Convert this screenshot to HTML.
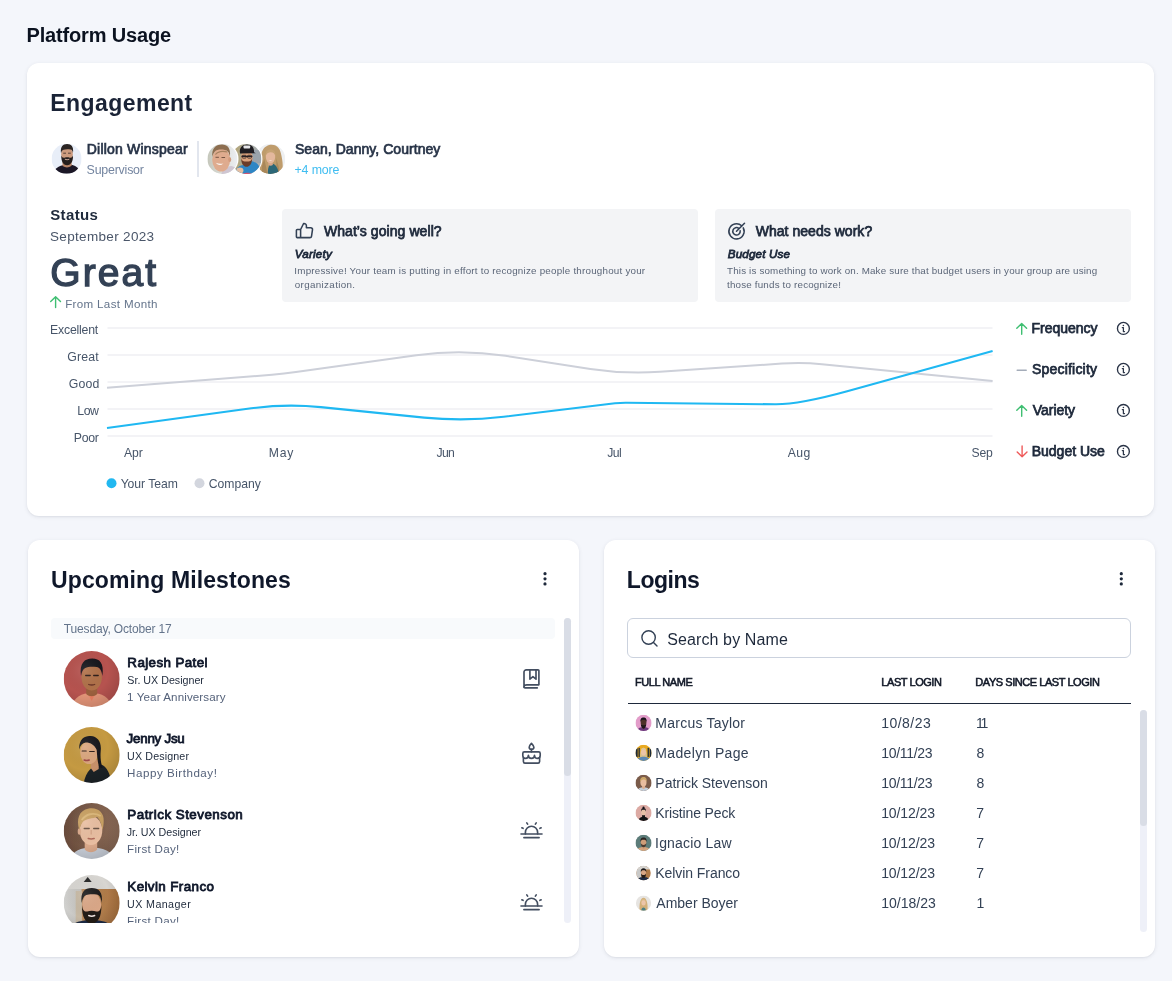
<!DOCTYPE html>
<html lang="en">
<head>
<meta charset="utf-8">
<title>Platform Usage</title>
<style>
*{box-sizing:border-box;margin:0;padding:0}
html,body{width:1172px;height:981px;overflow:hidden}
body{background:#f4f6fb;font-family:"Liberation Sans",sans-serif;color:#1e293b;position:relative}
.abs{position:absolute;white-space:nowrap;line-height:1}
.card{position:absolute;background:#fff;border-radius:12px;box-shadow:0 1px 4px rgba(30,40,70,.09),0 1px 2px rgba(30,40,70,.05)}
.t{position:absolute;white-space:nowrap;line-height:1;transform-origin:0 0}
svg{position:absolute;overflow:visible}
.yl{font-size:12.500px;color:#475569}
.xl{font-size:12.500px;color:#475569}
.mt{font-size:14px;font-weight:400;color:#1e293b;-webkit-text-stroke:.75px}
.th{font-size:11px;font-weight:400;color:#111827;-webkit-text-stroke:.55px}
.mn{font-size:14px;font-weight:400;color:#0f172a;-webkit-text-stroke:.8px}
.mr{font-size:11.500px;color:#1e293b}
.mo{font-size:12.500px;color:#55627a}
.ln{font-size:14px;color:#334155}
.mi{stroke:#434e60 !important;stroke-width:1.650px !important}
.ic{fill:none;stroke:#334155;stroke-width:1.4;stroke-linecap:round;stroke-linejoin:round}
</style>
</head>
<body>
<div id="root" style="position:absolute;left:0;top:0;width:1172px;height:981px;will-change:transform">

<!-- PAGE TITLE -->
<div class="t" id="ptitle" style="left:26.45px;top:24.90px;font-size:20px;letter-spacing:-0.150px;font-weight:700;color:#0b1220">Platform Usage</div>

<!-- ENGAGEMENT CARD -->
<div class="card" id="card1" style="left:27px;top:63px;width:1127.2px;height:453px"></div>
<div class="t" id="eng" style="left:50.35px;top:91.60px;font-size:23px;letter-spacing:0.433px;font-weight:700;color:#1a2336">Engagement</div>

<!-- supervisor -->
<svg id="av0" style="left:51px;top:143px" width="30" height="30" viewBox="-0.600 -0.800 30 30">
  <defs><clipPath id="c30"><circle cx="15" cy="15" r="15"/></clipPath>
  <linearGradient id="gA1" x1="0" x2="1"><stop offset="0" stop-color="#c4c6ba"/><stop offset=".45" stop-color="#d9dbd6"/><stop offset="1" stop-color="#eceef2"/></linearGradient>
  <linearGradient id="gA2" x1="0" x2="1"><stop offset="0" stop-color="#b9a46c"/><stop offset=".5" stop-color="#a8a99a"/><stop offset="1" stop-color="#a7afb6"/></linearGradient>
  </defs>
  <g clip-path="url(#c30)">
    <rect width="30" height="30" fill="#e8eef8"/>
    <path d="M1 30C2 25.500 6 23 11 21.500L20 21C24 22 28 24 29 30Z" fill="#1b1726"/>
    <path d="M10.800 18.500L11 22.300Q15.500 25 20 22L20 18.500Z" fill="#b78467"/>
    <ellipse cx="15.400" cy="10.500" rx="5.800" ry="7.200" fill="#cc9b7e"/>
    <path d="M9.400 9.500C8.700 3 11 .2 15.500.2C20 .2 22.200 3 21.400 9.500C21 6.800 20.200 6 19 5.700C16.500 5.200 13.500 5.300 12 5.900C10.600 6.400 9.800 7.200 9.400 9.500Z" fill="#2b2523"/>
    <path d="M9.700 11.500C9.500 17.500 11.500 21.400 15.500 21.400C19.500 21.400 21.700 17.500 21.400 11.500C20.900 13.600 19.600 14.300 18.100 13.900C16.600 13.400 14.500 13.400 13 13.900C11.500 14.300 10.200 13.600 9.700 11.500Z" fill="#241e1d"/>
    <path d="M13.600 15.600q1.900.9 3.800 0" stroke="#d8b4a4" stroke-width=".9" fill="none" stroke-linecap="round"/>
    <path d="M12 9.400h2M16.800 9.400h2" stroke="#3a2a24" stroke-width=".8" stroke-linecap="round"/>
  </g>
</svg>
<div class="t" id="sup1" style="left:86.75px;top:141.80px;font-size:14px;letter-spacing:0.204px;font-weight:400;-webkit-text-stroke:.7px;color:#283448">Dillon Winspear</div>
<div class="t" id="sup2" style="left:86.60px;top:164.00px;font-size:12.4px;letter-spacing:-0.211px;color:#7485a0">Supervisor</div>
<div class="abs" style="left:197.300px;top:141px;width:1.500px;height:36px;background:#e2e6ee"></div>

<!-- group avatars -->
<svg id="av3" style="left:254px;top:143px" width="32" height="32" viewBox="-1.300 -1.000 32 32">
  <circle cx="15" cy="15" r="16" fill="#fff"/>
  <g clip-path="url(#c30)">
    <rect width="30" height="30" fill="#eef0f2"/>
    <path d="M5.500 30C3.500 22 5 12 7 7C9 2.500 13 .8 16.500.8C21 .8 24.500 4 25.500 9C27 15 28.500 22 26.500 30Z" fill="#bf9c6c"/>
    <path d="M7 30C5.500 24 7.500 19 9 15L11 24L12 30Z" fill="#a98759"/>
    <path d="M21 14C22 19 24.500 23 24 30L21 30Z" fill="#ab8a5c"/>
    <path d="M12.500 30C12.500 24 13.500 20.500 16 19.500C19 19.500 22.500 22 23.500 30Z" fill="#2c6777"/>
    <path d="M13 17h4.500v4q-2.200 1.500-4.500 0z" fill="#d7a68a"/>
    <ellipse cx="15.200" cy="13" rx="4.700" ry="6.200" fill="#e4b89d"/>
    <path d="M10.300 12.500C10 7 12.500 5.500 15.500 5.500C18.500 5.500 20.500 7.500 20.200 12.500C19.500 9.500 18 8.300 15.500 8.300C13 8.300 11 9.500 10.300 12.500Z" fill="#c6a374"/>
    <path d="M13.200 15.900q2 1.500 4 0q-2 .7-4 0Z" fill="#fff"/>
  </g>
</svg>
<svg id="av2" style="left:230px;top:143px" width="32" height="32" viewBox="-1.350 -1.000 32 32">
  <circle cx="15" cy="15" r="16.100" fill="#fff"/>
  <g clip-path="url(#c30)">
    <rect width="30" height="30" fill="url(#gA2)"/>
    <rect x="17" y="6" width="13" height="13" fill="#9aa3ab"/>
    <path d="M3 30C4 24 8 21.500 12 21L20 17C24 18 29 20 30 30Z" fill="#2e86c5"/>
    <ellipse cx="15.500" cy="13" rx="5.900" ry="6.800" fill="#dba27c"/>
    <path d="M9.800 14C9.800 20 12.500 22.800 15.200 22.800C18 22.800 20.800 20 20.800 14C20 17.200 18.500 17.600 15.300 17.600C12.200 17.600 10.600 17.200 9.800 14Z" fill="#6a3c29"/>
    <path d="M8.600 9C7.800 3.500 11 .5 15.800.5C20.500.5 23 3.500 22.700 8.200L24.500 9.300L8.600 9.600Z" fill="#1f1d22"/>
    <rect x="12.200" y="1.400" width="6.600" height="3.200" rx=".8" fill="#e7e7ea"/>
    <path d="M10.200 12.400h10.800" stroke="#2a2224" stroke-width="1.300"/>
    <rect x="10.800" y="11.300" width="4" height="2.800" rx=".8" fill="none" stroke="#2a2224" stroke-width=".8"/>
    <rect x="16.200" y="11.300" width="4" height="2.800" rx=".8" fill="none" stroke="#2a2224" stroke-width=".8"/>
    <ellipse cx="8.500" cy="26.500" rx="3.600" ry="3" fill="#e6bfa2"/>
    <path d="M10 30q6-2.500 13 0z" fill="#e0506a"/>
  </g>
</svg>
<svg id="av1" style="left:206px;top:143px" width="32" height="32" viewBox="-1.400 -1.000 32 32">
  <circle cx="15" cy="15" r="16.100" fill="#fff"/>
  <g clip-path="url(#c30)">
    <rect width="30" height="30" fill="url(#gA1)"/>
    <path d="M14 30C15 25 19 22.500 24 22L30 24V30Z" fill="#cfc6d2"/>
    <ellipse cx="13.800" cy="15.800" rx="9" ry="11.800" fill="#dfab8e"/>
    <ellipse cx="22.300" cy="15.500" rx="1.500" ry="2.600" fill="#d39a7c"/>
    <path d="M5 13C4 5 8 .6 14.500.6C20 .6 23.500 4 22.600 12.500C21.500 8 20 6.500 17.500 6C13.500 5 9.500 5.500 7.500 7.500C6 9 5.500 10.500 5 13Z" fill="#8d6e50"/>
    <path d="M8 10.500C10 7.500 15 6.500 20 8" stroke="#a78361" stroke-width="1.200" fill="none"/>
    <path d="M8.300 18.800Q12 23 16 19.500Q12 20.300 8.300 18.800Z" fill="#fbf7f4"/>
    <path d="M8.500 13.300h2.600M14.500 13.500h2.800" stroke="#6a4a3a" stroke-width=".9" stroke-linecap="round"/>
  </g>
</svg>
<div class="t" id="grp1" style="left:294.95px;top:141.80px;font-size:14px;letter-spacing:0.043px;font-weight:400;-webkit-text-stroke:.7px;color:#283448">Sean, Danny, Courtney</div>
<div class="t" id="grp2" style="left:294.50px;top:163.80px;font-size:12.4px;letter-spacing:-0.142px;color:#3fbdf1">+4 more</div>

<!-- status -->
<div class="t" id="st1" style="left:50.25px;top:206.50px;font-size:15px;letter-spacing:0.360px;font-weight:700;color:#1e293b">Status</div>
<div class="t" id="st2" style="left:50.00px;top:229.70px;font-size:13.5px;letter-spacing:0.327px;color:#4a5669">September 2023</div>
<div class="t" id="st3" style="left:50.30px;top:253.20px;font-size:39px;letter-spacing:2.05px;font-weight:400;-webkit-text-stroke:1.3px;color:#334155">Great</div>
<svg id="st4a" style="left:49px;top:295px" width="14" height="14" viewBox="0 0 14 14"><path d="M6.600 12.500V1.800M1.700 6.600L6.600 1.700L11.500 6.600" fill="none" stroke="#3fbf72" stroke-width="1.400" stroke-linecap="round" stroke-linejoin="round"/></svg>
<div class="t" id="st4" style="left:65.15px;top:297.90px;font-size:11.6px;letter-spacing:0.336px;color:#64748b">From Last Month</div>

<!-- insight 1 -->
<div class="abs" style="left:282.300px;top:208.500px;width:416.200px;height:93.300px;background:#f3f4f6;border-radius:4px"></div>
<svg id="thumb" style="left:294px;top:221px" width="21" height="19" viewBox="0 0 21 19">
  <path class="ic" style="stroke-width:1.550" d="M2.400 9.300Q2.400 8.500 3.200 8.500H6.600V16.600H3.200Q2.400 16.600 2.400 15.800ZM6.600 8.500L9.600 2.500C11.200 2.300 12.400 3.300 12.400 4.800V6.800H16.800C17.900 6.800 18.600 7.700 18.500 8.600L17.500 15.300C17.400 16.100 16.700 16.600 15.900 16.600H6.600"/>
</svg>
<div class="t" id="in1h" style="left:323.90px;top:224.30px;font-size:14px;letter-spacing:0.074px;font-weight:400;-webkit-text-stroke:.75px;color:#1e293b">What’s going well?</div>
<div class="t" id="in1s" style="left:294.85px;top:247.80px;font-size:11.7px;letter-spacing:0.167px;font-weight:400;-webkit-text-stroke:.8px;font-style:italic;color:#1e293b">Variety</div>
<div class="t" id="in1a" style="left:294.30px;top:265.90px;font-size:9.8px;letter-spacing:0.223px;color:#5b6678">Impressive! Your team is putting in effort to recognize people throughout your</div>
<div class="t" id="in1b" style="left:294.80px;top:279.70px;font-size:9.8px;letter-spacing:0.346px;color:#5b6678">organization.</div>

<!-- insight 2 -->
<div class="abs" style="left:714.500px;top:208.500px;width:416px;height:93.300px;background:#f3f4f6;border-radius:4px"></div>
<svg id="target" style="left:727px;top:221px" width="19" height="19" viewBox="0.000 -0.800 19 19">
  <path class="ic" style="stroke-width:1.550" d="M9.500 9.500L17.500 1.500"/>
  <path class="ic" style="stroke-width:1.550" d="M16.270 6.050A7.600 7.600 0 1 1 14.680 3.940"/>
  <path class="ic" style="stroke-width:1.550" d="M13.170 9.050A3.700 3.700 0 1 1 11.780 6.580"/>
</svg>
<div class="t" id="in2h" style="left:755.70px;top:224.30px;font-size:14px;letter-spacing:0.037px;font-weight:400;-webkit-text-stroke:.75px;color:#1e293b">What needs work?</div>
<div class="t" id="in2s" style="left:727.80px;top:247.80px;font-size:11.7px;letter-spacing:0.133px;font-weight:400;-webkit-text-stroke:.8px;font-style:italic;color:#1e293b">Budget Use</div>
<div class="t" id="in2a" style="left:727.05px;top:265.90px;font-size:9.8px;letter-spacing:0.168px;color:#5b6678">This is something to work on. Make sure that budget users in your group are using</div>
<div class="t" id="in2b" style="left:727.05px;top:279.70px;font-size:9.8px;letter-spacing:0.183px;color:#5b6678">those funds to recognize!</div>

<!-- CHART -->
<svg id="chart" style="left:0;top:0" width="1172" height="520" viewBox="0 0 1172 520">
  <g stroke="#eff0f3" stroke-width="1.5">
    <path d="M107.500 328H992.500M107.500 355H992.500M107.500 382H992.500M107.500 409H992.500M107.500 436H992.500"/>
  </g>
  <path id="gline" stroke-linecap="butt" d="M107 387.8 L272.0 374.7 Q284 373.8 295.9 372.1 L416.4 355.2 Q461 348.9 505.5 355.8 L590.4 368.9 Q625 374.2 659.9 371.8 L782.0 363.6 Q802 362.2 821.9 364.2 L992.6 380.9" fill="none" stroke="#cdd0d9" stroke-width="2"/>
  <path id="bline" stroke-linecap="butt" d="M107 428 L251.3 408.3 Q286 403.6 320.8 407.1 L424.2 417.6 Q464 421.6 503.7 416.8 L615.0 403.3 Q621 402.6 627.0 402.7 L775.0 404.3 Q799 404.6 847.2 391.3 L992.6 351" fill="none" stroke="#1fb8f2" stroke-width="2.100"/>
  <circle cx="111.500" cy="483.200" r="5" fill="#22b8f0"/>
  <circle cx="199.500" cy="483.200" r="5" fill="#d3d6de"/>
</svg>
<div class="t yl" id="y1" style="left:50.10px;top:323.60px;font-size:12.3px;letter-spacing:-0.225px">Excellent</div>
<div class="t yl" id="y2" style="left:67.35px;top:350.60px;font-size:12.3px;letter-spacing:0.125px">Great</div>
<div class="t yl" id="y3" style="left:68.70px;top:377.70px;font-size:12.3px;letter-spacing:0.217px">Good</div>
<div class="t yl" id="y4" style="left:77.20px;top:404.60px;font-size:12.3px;letter-spacing:-0.400px">Low</div>
<div class="t yl" id="y5" style="left:73.70px;top:431.60px;font-size:12.3px;letter-spacing:-0.250px">Poor</div>
<div class="t xl" id="x1" style="left:124.00px;top:447.00px;font-size:12.2px;letter-spacing:-0.025px">Apr</div>
<div class="t xl" id="x2" style="left:268.70px;top:447.00px;font-size:12.2px;letter-spacing:0.850px">May</div>
<div class="t xl" id="x3" style="left:436.45px;top:447.00px;font-size:12.2px;letter-spacing:-0.600px">Jun</div>
<div class="t xl" id="x4" style="left:607.25px;top:447.00px;font-size:12.2px;letter-spacing:-0.500px">Jul</div>
<div class="t xl" id="x5" style="left:787.80px;top:447.00px;font-size:12.2px;letter-spacing:0.350px">Aug</div>
<div class="t xl" id="x6" style="left:971.50px;top:447.00px;font-size:12.2px;letter-spacing:-0.225px">Sep</div>
<div class="t xl" id="lg1" style="left:120.65px;top:477.50px;font-size:12.2px;letter-spacing:-0.038px">Your Team</div>
<div class="t xl" id="lg2" style="left:208.70px;top:477.50px;font-size:12.2px;letter-spacing:0.017px">Company</div>

<!-- metrics -->
<svg id="ar1" style="left:1014px;top:321px" width="14" height="14" viewBox="-0.700 -0.700 14 14"><path d="M7 12.500V1.800M2.100 6.600L7 1.700L11.900 6.600" fill="none" stroke="#3fbf72" stroke-width="1.400" stroke-linecap="round" stroke-linejoin="round"/></svg>
<svg id="ar2" style="left:1014px;top:362px" width="14" height="14" viewBox="-0.700 -0.700 14 14"><path d="M2.500 7.500H11.500" fill="none" stroke="#a4acb9" stroke-width="1.500" stroke-linecap="round"/></svg>
<svg id="ar3" style="left:1014px;top:403px" width="14" height="14" viewBox="-0.700 -0.700 14 14"><path d="M7 12.500V1.800M2.100 6.600L7 1.700L11.900 6.600" fill="none" stroke="#3fbf72" stroke-width="1.400" stroke-linecap="round" stroke-linejoin="round"/></svg>
<svg id="ar4" style="left:1014px;top:444px" width="14" height="14" viewBox="-1.100 -0.500 14 14"><path d="M7 1.500V12.200M2.100 7.400L7 12.300L11.900 7.400" fill="none" stroke="#ef5a5a" stroke-width="1.400" stroke-linecap="round" stroke-linejoin="round"/></svg>
<div class="t mt" id="m1" style="left:1031.45px;top:321.30px;font-size:14px;letter-spacing:-0.006px">Frequency</div>
<div class="t mt" id="m2" style="left:1031.95px;top:362.10px;font-size:14px;letter-spacing:0.205px">Specificity</div>
<div class="t mt" id="m3" style="left:1032.70px;top:403.10px;font-size:14px;letter-spacing:-0.017px">Variety</div>
<div class="t mt" id="m4" style="left:1031.75px;top:443.90px;font-size:14px;letter-spacing:-0.017px">Budget Use</div>
<svg class="info" style="left:1116px;top:321px" width="14" height="14" viewBox="-0.400 -0.400 14 14"><circle cx="7" cy="7" r="5.950" fill="none" stroke="#2a3447" stroke-width="1.350"/><path d="M5.900 6.200H7V10.200H8.100" fill="none" stroke="#2a3447" stroke-width="1.250" stroke-linecap="round" stroke-linejoin="round"/><circle cx="7" cy="4.150" r=".8" fill="#2a3447"/></svg>
<svg class="info" style="left:1116px;top:362px" width="14" height="14" viewBox="-0.400 -0.400 14 14"><circle cx="7" cy="7" r="5.950" fill="none" stroke="#2a3447" stroke-width="1.350"/><path d="M5.900 6.200H7V10.200H8.100" fill="none" stroke="#2a3447" stroke-width="1.250" stroke-linecap="round" stroke-linejoin="round"/><circle cx="7" cy="4.150" r=".8" fill="#2a3447"/></svg>
<svg class="info" style="left:1116px;top:403px" width="14" height="14" viewBox="-0.400 -0.400 14 14"><circle cx="7" cy="7" r="5.950" fill="none" stroke="#2a3447" stroke-width="1.350"/><path d="M5.900 6.200H7V10.200H8.100" fill="none" stroke="#2a3447" stroke-width="1.250" stroke-linecap="round" stroke-linejoin="round"/><circle cx="7" cy="4.150" r=".8" fill="#2a3447"/></svg>
<svg class="info" style="left:1116px;top:444px" width="14" height="14" viewBox="-0.400 -0.400 14 14"><circle cx="7" cy="7" r="5.950" fill="none" stroke="#2a3447" stroke-width="1.350"/><path d="M5.900 6.200H7V10.200H8.100" fill="none" stroke="#2a3447" stroke-width="1.250" stroke-linecap="round" stroke-linejoin="round"/><circle cx="7" cy="4.150" r=".8" fill="#2a3447"/></svg>

<!--CHART_END-->
<!-- MILESTONES CARD -->
<div class="card" id="card2" style="left:27.600px;top:539.700px;width:551.700px;height:417.200px"></div>
<div class="t" id="mile" style="left:51.10px;top:568.50px;font-size:23px;letter-spacing:0.108px;font-weight:700;color:#0f172a">Upcoming Milestones</div>
<svg class="kebab" style="left:542px;top:571px" width="6" height="16" viewBox="0 0 6 16"><circle cx="3" cy="2.700" r="1.600" fill="#1e293b"/><circle cx="3" cy="7.800" r="1.600" fill="#1e293b"/><circle cx="3" cy="12.900" r="1.600" fill="#1e293b"/></svg>
<div class="abs" style="left:51.300px;top:618.300px;width:504px;height:20.500px;background:#f8fafc;border-radius:4px"></div>
<div class="t" id="date" style="left:63.75px;top:623.00px;font-size:12px;letter-spacing:-0.150px;color:#64748b">Tuesday, October 17</div>
<!-- scrollbar -->
<div class="abs" style="left:563.800px;top:618px;width:7.400px;height:305px;background:#eef0f8;border-radius:4px"></div>
<div class="abs" style="left:563.800px;top:618px;width:7.400px;height:158px;background:#d9dde6;border-radius:4px"></div>

<div id="mlist" style="position:absolute;left:51px;top:640px;width:510px;height:283px;overflow:hidden">
<svg width="0" height="0" style="left:0;top:0"><defs><clipPath id="c56"><circle cx="28" cy="28" r="28"/></clipPath>
<filter id="soft" x="-5%" y="-5%" width="110%" height="110%"><feGaussianBlur stdDeviation=".55"/></filter><radialGradient id="shade" cx=".38" cy=".35" r=".75"><stop offset="0" stop-color="#fff" stop-opacity=".10"/><stop offset=".55" stop-color="#000" stop-opacity="0"/><stop offset="1" stop-color="#000" stop-opacity=".16"/></radialGradient>
<linearGradient id="gPat" x1="0" x2="1"><stop offset="0" stop-color="#6a4c3c"/><stop offset="1" stop-color="#8a6a56"/></linearGradient>
<linearGradient id="gKel" x1="0" x2="1"><stop offset="0" stop-color="#d2d2d0"/><stop offset=".3" stop-color="#c4c2bd"/><stop offset=".34" stop-color="#b98a5a"/><stop offset="1" stop-color="#a9713f"/></linearGradient>
</defs></svg>
<!-- Rajesh -->
<svg id="mv1" style="left:12px;top:11px" width="56" height="56" viewBox="-0.700 0.000 56 56"><g clip-path="url(#c56)"><g filter="url(#soft)">
  <rect width="56" height="56" fill="#b65250"/>
  <path d="M8 56 C10 46 18 42 28 42 C38 42 46 46 48 56Z" fill="#e39478"/>
  <path d="M23 40 L28 50 L33 40Z" fill="#ea7f62"/>
  <path d="M22.500 34h11v9c-3 3-8 3-11 0z" fill="#9a5f3e"/>
  <ellipse cx="28" cy="26.500" rx="10.200" ry="13" fill="#b0714a"/>
  <path d="M17.300 25 C15.500 12 21 7.500 28.500 7.500 C36 7.500 40.500 12 38.700 25 C38 19 36 16.500 33 16 C29 15.500 24 15.500 21.500 17 C19 18.500 18 21 17.300 25Z" fill="#16151a"/>
  <path d="M22 24.500h4.500M30 24.500h4.500" stroke="#2a1a14" stroke-width="1.300" stroke-linecap="round"/>
  <path d="M25 33.500q3 1 6 0" stroke="#6b3527" stroke-width="1.300" fill="none" stroke-linecap="round"/>
</g><rect width="56" height="56" fill="url(#shade)"/></g></svg>
<div class="t mn" id="mn1" style="left:76.35px;top:16.20px;font-size:13.4px;letter-spacing:0.386px">Rajesh Patel</div>
<div class="t mr" id="mr1" style="left:76.35px;top:34.50px;font-size:10.7px;letter-spacing:-0.004px">Sr. UX Designer</div>
<div class="t mo" id="mo1" style="left:76.10px;top:51.40px;font-size:11.6px;letter-spacing:0.103px">1 Year Anniversary</div>
<svg id="ic1" style="left:471px;top:28px" width="20" height="22" viewBox="0 0 20 22">
  <path class="ic mi" d="M16.900 16.800H4.800C3.200 16.800 2 17.700 2 19.100V4.100C2 2.800 3 1.800 4.300 1.800H16.100Q16.900 1.800 16.900 2.600Z"/>
  <path class="ic mi" d="M2 19.100C2 19.600 2.400 19.900 3 19.900H15.300"/>
  <path class="ic mi" d="M7.900 1.900V11.200L10.950 8.700L14 11.200V1.900"/>
</svg>
<!-- Jenny -->
<svg id="mv2" style="left:12px;top:87px" width="56" height="56" viewBox="-0.700 0.000 56 56"><g clip-path="url(#c56)"><g filter="url(#soft)">
  <rect width="56" height="56" fill="#c59a43"/>
  <path d="M20 56 C22 44 30 37 37 37.500 C43 38.500 47 48 47.500 56Z" fill="#1c2126"/>
  <path d="M27 33h8v9l-5 3-3-4z" fill="#c8906a"/>
  <ellipse cx="25.500" cy="25.500" rx="9" ry="11.500" fill="#dba67e"/>
  <path d="M15.500 22.500 C15 12 21 8.500 27 9 C34 9.500 38 15 37 24 C36.500 30 37 36 39 41 L35.500 40 C33.500 34 33.500 28 33 23 C31 18 27 15.500 22 15.500 C18.500 16 16.500 18.500 15.500 22.500Z" fill="#15151a"/>
  <path d="M18.500 24h4M26 24.500h4.500" stroke="#2a1a14" stroke-width="1.200" stroke-linecap="round"/>
  <path d="M20.500 33q2.500 1 5 0" stroke="#a04a4a" stroke-width="1.600" fill="none" stroke-linecap="round"/>
</g><rect width="56" height="56" fill="url(#shade)"/></g></svg>
<div class="t mn" id="mn2" style="left:75.60px;top:92.20px;font-size:13.4px;letter-spacing:-0.262px">Jenny Jsu</div>
<div class="t mr" id="mr2" style="left:76.10px;top:110.50px;font-size:10.7px;letter-spacing:0.130px">UX Designer</div>
<div class="t mo" id="mo2" style="left:76.10px;top:127.40px;font-size:11.6px;letter-spacing:0.521px">Happy Birthday!</div>
<svg id="ic2" style="left:470px;top:102px" width="22" height="23" viewBox="0 0 22 23">
  <path class="ic mi" d="M10.450 1.400C12.200 3.200 12.900 4.300 12.900 5.300C12.900 6.500 11.800 7.400 10.450 7.400C9.100 7.400 8.200 6.500 8.200 5.300C8.200 4.300 8.700 3.200 10.450 1.400Z"/>
  <path class="ic mi" d="M10.450 7.400V9.900"/>
  <path class="ic mi" d="M3.300 9.900H17.700C18.500 9.900 19.200 10.600 19.200 11.400V13.600C19.200 15.200 18 16.400 16.350 16.400C14.800 16.400 13.500 15.200 13.500 13.300C13.500 15.200 12.100 16.400 10.450 16.400C8.800 16.400 7.400 15.200 7.400 13.300C7.400 15.200 6.100 16.400 4.550 16.400C3 16.400 1.800 15.200 1.800 13.600V11.400C1.800 10.600 2.500 9.900 3.300 9.900Z"/>
  <path class="ic mi" d="M2.400 15.600V19.600C2.400 20.400 3.100 21.100 3.900 21.100H17.100C17.900 21.100 18.600 20.400 18.600 19.600V15.600"/>
</svg>
<!-- Patrick -->
<svg id="mv3" style="left:12px;top:163px" width="56" height="56" viewBox="-0.700 0.000 56 56"><g clip-path="url(#c56)"><g filter="url(#soft)">
  <rect width="56" height="56" fill="url(#gPat)"/>
  <path d="M7 56C9 48 17 44.500 28 44.500C39 44.500 48 48 50 56Z" fill="#c6ccd6"/>
  <path d="M21 36h12.500v10.500c-3.500 3.500-9 3.500-12.500 0z" fill="#d9a88a"/>
  <ellipse cx="27.300" cy="27.500" rx="11.300" ry="14.500" fill="#e9bea1"/>
  <ellipse cx="15.700" cy="28.500" rx="1.700" ry="3.200" fill="#dcab8d"/>
  <path d="M15.500 27C12.500 16 15 7.500 25 5.500C34 4 40.500 9.500 40 18C40 22 39.300 25 38.600 27C38.200 22 36.500 17 33.500 14C29 15.500 22.500 15.500 19 19C17.200 21.500 16.500 24 15.500 27Z" fill="#c9a163"/>
  <path d="M18 17C22 11 30 9 37 13" stroke="#dcb87a" stroke-width="1.800" fill="none"/>
  <path d="M20.500 25.500h5M30 25.500h5" stroke="#6a5244" stroke-width="1.300" stroke-linecap="round"/>
  <path d="M24.500 35.500q3 .9 6 0" stroke="#b06a5a" stroke-width="1.500" fill="none" stroke-linecap="round"/>
  <path d="M27.500 27v4.500" stroke="#d3a284" stroke-width="1.200"/>
</g><rect width="56" height="56" fill="url(#shade)"/></g></svg>
<div class="t mn" id="mn3" style="left:76.35px;top:168.20px;font-size:13.4px;letter-spacing:0.472px">Patrick Stevenson</div>
<div class="t mr" id="mr3" style="left:75.75px;top:186.50px;font-size:10.7px;letter-spacing:-0.036px">Jr. UX Designer</div>
<div class="t mo" id="mo3" style="left:76.10px;top:203.40px;font-size:11.6px;letter-spacing:0.283px">First Day!</div>
<svg id="ic3" style="left:468px;top:180px" width="26" height="20" viewBox="0 0 26 20">
  <path class="ic mi" d="M2 13.970H23M4.900 17.650H20.100"/>
  <path class="ic mi" d="M6.400 13.900V12.300A6.100 6.100 0 0 1 18.600 12.300V13.900"/>
  <path class="ic mi" d="M7.780 2.890L8.620 4.160M17.220 2.890L16.380 4.160M2.840 7.780L4.060 8.320M22.160 7.780L20.940 8.320"/>
</svg>
<!-- Kelvin -->
<svg id="mv4" style="left:12px;top:235px" width="56" height="56" viewBox="-0.700 0.000 56 56"><g clip-path="url(#c56)"><g filter="url(#soft)">
  <rect width="56" height="56" fill="url(#gKel)"/>
  <rect x="0" y="0" width="56" height="14" fill="#d8d6d2"/>
  <path d="M20 7l4-5 4 5z" fill="#2a2a2c"/>
  <rect x="12" y="16" width="6" height="40" fill="#c7b9a4"/>
  <path d="M4 56 C7 48 16 45 28 45 C40 45 48 48 51 56Z" fill="#1b2944"/>
  <ellipse cx="28" cy="30" rx="9.500" ry="12.500" fill="#dba888"/>
  <path d="M18.300 30 C18 42 22 48.500 28 48.500 C34 48.500 38 42 37.700 30 C37 36 35 37 32.500 36.500 C30 35.500 26 35.500 23.500 36.500 C21 37 19 36 18.300 30Z" fill="#241a14"/>
  <path d="M18 28 C16.500 17 21 13 28 13 C35 13 39.500 17 38 28 C37.500 23 36 20 33 19.500 C29 19 25 19 22.500 20 C20 21 18.500 24 18 28Z" fill="#1c1a1c"/>
  <path d="M25 40.500q3 1.500 6 0" stroke="#f0e6e0" stroke-width="1.400" fill="none" stroke-linecap="round"/>
</g><rect width="56" height="56" fill="url(#shade)"/></g></svg>
<div class="t mn" id="mn4" style="left:76.35px;top:240.20px;font-size:13.4px;letter-spacing:0.392px">Kelvin Franco</div>
<div class="t mr" id="mr4" style="left:76.10px;top:258.50px;font-size:10.7px;letter-spacing:0.400px">UX Manager</div>
<div class="t mo" id="mo4" style="left:76.10px;top:275.40px;font-size:11.6px;letter-spacing:0.283px">First Day!</div>
<svg id="ic4" style="left:468px;top:252px" width="26" height="20" viewBox="0 0 26 20">
  <path class="ic mi" d="M2 13.970H23M4.900 17.650H20.100"/>
  <path class="ic mi" d="M6.400 13.900V12.300A6.100 6.100 0 0 1 18.600 12.300V13.900"/>
  <path class="ic mi" d="M7.780 2.890L8.620 4.160M17.220 2.890L16.380 4.160M2.840 7.780L4.060 8.320M22.160 7.780L20.940 8.320"/>
</svg>

</div>

<!-- LOGINS CARD -->
<div class="card" id="card3" style="left:603.600px;top:539.700px;width:551.700px;height:417.200px"></div>
<div class="t" id="logins" style="left:626.85px;top:568.70px;font-size:23px;letter-spacing:-0.490px;font-weight:700;color:#0f172a">Logins</div>
<svg class="kebab" style="left:1118px;top:571px" width="6" height="16" viewBox="-0.300 0.000 6 16"><circle cx="3" cy="2.700" r="1.600" fill="#1e293b"/><circle cx="3" cy="7.800" r="1.600" fill="#1e293b"/><circle cx="3" cy="12.900" r="1.600" fill="#1e293b"/></svg>
<div class="abs" style="left:627.200px;top:618px;width:504.200px;height:39.600px;border:1px solid #cbd2de;border-radius:6px;background:#fff"></div>
<svg id="search" style="left:640px;top:628px" width="18" height="18" viewBox="0.000 -0.900 18 18"><circle cx="8.600" cy="8.600" r="6.700" fill="none" stroke="#334155" stroke-width="1.400"/><path d="M13.500 13.500L17 17" stroke="#334155" stroke-width="1.400" stroke-linecap="round"/></svg>
<div class="t" id="sbn" style="left:667.15px;top:631.70px;font-size:16px;letter-spacing:0.119px;color:#1e293b">Search by Name</div>
<div class="t th" id="th1" style="left:635.05px;top:677.30px;font-size:11px;letter-spacing:-0.450px">FULL NAME</div>
<div class="t th" id="th2" style="left:881.35px;top:677.30px;font-size:11px;letter-spacing:-0.450px">LAST LOGIN</div>
<div class="t th" id="th3" style="left:975.35px;top:677.30px;font-size:11px;letter-spacing:-0.447px">DAYS SINCE LAST LOGIN</div>
<div class="abs" style="left:627.500px;top:702.800px;width:503.300px;height:1.500px;background:#1e293b"></div>
<!-- scrollbar -->
<div class="abs" style="left:1139.700px;top:710px;width:7.400px;height:222px;background:#eef0f8;border-radius:4px"></div>
<div class="abs" style="left:1139.700px;top:710px;width:7.400px;height:116px;background:#d9dde6;border-radius:4px"></div>
<svg width="0" height="0" style="left:0;top:0"><defs><clipPath id="c16"><circle cx="8" cy="8" r="8"/></clipPath></defs></svg>
<svg id="la0" style="left:635px;top:714px" width="16.2" height="16.2" viewBox="-0.444 -0.840 16 16"><g clip-path="url(#c16)"><rect width="16" height="16" fill="#e29cc9"/><path d="M2 16C2.500 12.800 5 12 8 12C11 12 13.500 12.800 14 16Z" fill="#6a3a7c"/><path d="M6.500 10h3v3l-1.500 1-1.500-1z" fill="#3d2620"/><ellipse cx="8" cy="7.3" rx="2.8" ry="3.7" fill="#4d3129"/><path transform="translate(0 0)" d="M5 7.300C4.600 3.800 6 2.600 8 2.600C10 2.600 11.400 3.800 11 7.300C10.600 5.300 9.800 4.800 8 4.800C6.200 4.800 5.400 5.300 5 7.300Z" fill="#17121a"/><path d="M5.300 8.500C5.300 12 6.500 13.300 8 13.300C9.500 13.300 10.700 12 10.700 8.500C10 10 9.300 10.200 8 10.200C6.700 10.200 6 10 5.300 8.500Z" fill="#1e1618"/></g></svg>
<div class="t ln" id="ln0" style="left:655.35px;top:715.85px;font-size:14px;letter-spacing:0.233px">Marcus Taylor</div>
<div class="t ln" id="ld0" style="left:881.20px;top:715.75px;font-size:14px;letter-spacing:0.483px">10/8/23</div>
<div class="t ln" id="lk0" style="left:976.00px;top:715.75px;font-size:14px;letter-spacing:-2.200px">11</div>
<svg id="la1" style="left:635px;top:744px" width="16.2" height="16.2" viewBox="-0.444 -0.790 16 16"><g clip-path="url(#c16)"><rect width="16" height="16" fill="#e9a91f"/><rect x="0" y="3.500" width="2.200" height="9" fill="#1b2a3a"/><rect x="3" y="3" width="1.300" height="9" fill="#1b2a3a"/><rect x="12" y="3" width="1.300" height="9" fill="#1b2a3a"/><rect x="14" y="3.500" width="2" height="9" fill="#1b2a3a"/><path d="M4.800 14C4.300 8 5.300 2.800 8 2.800C10.700 2.800 11.700 8 11.200 14Z" fill="#d9c08c"/><path d="M1.500 16C2 12.500 5 11.800 8 11.800C11 11.800 14 12.500 14.500 16Z" fill="#5d88b3"/><ellipse cx="8" cy="7.2" rx="2.5" ry="3.3" fill="#ecc4a8"/><path d="M5.500 6.500C5.300 3.800 6.500 3 8 3C9.500 3 10.700 3.800 10.500 6.500C10 5 9.300 4.600 8 4.600C6.700 4.600 6 5 5.500 6.500Z" fill="#dcc592"/></g></svg>
<div class="t ln" id="ln1" style="left:655.35px;top:745.85px;font-size:14px;letter-spacing:0.341px">Madelyn Page</div>
<div class="t ln" id="ld1" style="left:881.20px;top:745.75px;font-size:14px;letter-spacing:-0.293px">10/11/23</div>
<div class="t ln" id="lk1" style="left:976.55px;top:745.75px;font-size:14px;letter-spacing:0.000px">8</div>
<svg id="la2" style="left:635px;top:774px" width="16.2" height="16.2" viewBox="-0.444 -0.790 16 16"><g clip-path="url(#c16)"><rect width="16" height="16" fill="#7a5b4a"/><path d="M2 16C2.500 13 5 12.300 8 12.300C11 12.300 13.500 13 14 16Z" fill="#c3cfdc"/><path d="M6.500 10h3v3.200l-1.500 .8-1.500-.8z" fill="#dcae90"/><ellipse cx="7.9" cy="7.5" rx="3" ry="3.9" fill="#e8bda0"/><path d="M4.800 7.300C4.200 3.800 5.800 2.200 8 2.200C10.200 2.200 11.600 3.800 11 7.300C10.600 5.300 9.800 4.500 8 4.600C6.300 4.700 5.300 5.500 4.800 7.300Z" fill="#cba668"/></g></svg>
<div class="t ln" id="ln2" style="left:655.35px;top:775.85px;font-size:14px;letter-spacing:-0.028px">Patrick Stevenson</div>
<div class="t ln" id="ld2" style="left:881.20px;top:775.75px;font-size:14px;letter-spacing:-0.293px">10/11/23</div>
<div class="t ln" id="lk2" style="left:976.55px;top:775.75px;font-size:14px;letter-spacing:0.000px">8</div>
<svg id="la3" style="left:635px;top:804px" width="16.2" height="16.2" viewBox="-0.444 -0.790 16 16"><g clip-path="url(#c16)"><rect width="16" height="16" fill="#dcaaa3"/><path d="M2.500 16C3 13 5.500 12 8 11.500C10.500 12 13 13 13.500 16Z" fill="#111114"/><rect x="6.600" y="9.800" width="2.800" height="2.500" fill="#111114"/><ellipse cx="8" cy="7.3" rx="2.4" ry="3.1" fill="#e6bea6"/><path d="M5.600 6.800C5.300 4 6.500 3.200 8 3.200C9.500 3.200 10.700 4 10.400 6.800C10 5.300 9.300 5 8 5C6.700 5 6 5.300 5.600 6.800Z" fill="#15131a"/><circle cx="8" cy="2.900" r="1.100" fill="#15131a"/></g></svg>
<div class="t ln" id="ln3" style="left:655.35px;top:805.85px;font-size:14px;letter-spacing:-0.150px">Kristine Peck</div>
<div class="t ln" id="ld3" style="left:881.20px;top:805.75px;font-size:14px;letter-spacing:-0.107px">10/12/23</div>
<div class="t ln" id="lk3" style="left:976.25px;top:805.75px;font-size:14px;letter-spacing:0.000px">7</div>
<svg id="la4" style="left:635px;top:834px" width="16.2" height="16.2" viewBox="-0.444 -0.790 16 16"><g clip-path="url(#c16)"><rect width="16" height="16" fill="#5c7c79"/><path d="M1.500 16C2 12.800 5 12 8 12C11 12 14 12.800 14.500 16Z" fill="#d5a47e"/><path d="M6.400 10h3.200v3l-1.600 .8-1.600-.8z" fill="#c9966f"/><ellipse cx="8" cy="7.2" rx="2.8" ry="3.6" fill="#cf9d78"/><path transform="translate(0 0)" d="M5 7.300C4.600 3.800 6 2.600 8 2.600C10 2.600 11.400 3.800 11 7.300C10.600 5.300 9.800 4.800 8 4.800C6.200 4.800 5.400 5.300 5 7.300Z" fill="#2a2421"/><path d="M5.300 8.200C5.300 11.300 6.500 12.400 8 12.400C9.500 12.400 10.700 11.300 10.700 8.200C10 9.700 9.300 10 8 10C6.700 10 6 9.700 5.300 8.200Z" fill="#4a3a30"/></g></svg>
<div class="t ln" id="ln4" style="left:655.10px;top:835.85px;font-size:14px;letter-spacing:0.175px">Ignacio Law</div>
<div class="t ln" id="ld4" style="left:881.20px;top:835.75px;font-size:14px;letter-spacing:-0.107px">10/12/23</div>
<div class="t ln" id="lk4" style="left:976.25px;top:835.75px;font-size:14px;letter-spacing:0.000px">7</div>
<svg id="la5" style="left:636px;top:865px" width="14.6" height="14.6" viewBox="-0.274 -0.877 16 16"><g clip-path="url(#c16)"><rect width="16" height="16" fill="#b07a48"/><rect width="5.500" height="16" fill="#c9c9c8"/><rect width="16" height="4" fill="#d5d3cf"/><path d="M1.500 16C2 13 5 12.300 8 12.300C11 12.300 14 13 14.500 16Z" fill="#1c2a45"/><ellipse cx="8" cy="7.6" rx="2.8" ry="3.6" fill="#d8a684"/><path transform="translate(0 0)" d="M5 7.300C4.600 3.800 6 2.600 8 2.600C10 2.600 11.400 3.800 11 7.300C10.600 5.300 9.800 4.800 8 4.800C6.200 4.800 5.400 5.300 5 7.300Z" fill="#1c1a1c"/><path d="M5.300 8.500C5.300 12 6.500 13.300 8 13.300C9.500 13.300 10.700 12 10.700 8.500C10 10 9.300 10.200 8 10.200C6.700 10.200 6 10 5.300 8.500Z" fill="#231a15"/></g></svg>
<div class="t ln" id="ln5" style="left:655.35px;top:865.85px;font-size:14px;letter-spacing:-0.071px">Kelvin Franco</div>
<div class="t ln" id="ld5" style="left:881.20px;top:865.75px;font-size:14px;letter-spacing:-0.107px">10/12/23</div>
<div class="t ln" id="lk5" style="left:976.25px;top:865.75px;font-size:14px;letter-spacing:0.000px">7</div>
<svg id="la6" style="left:635px;top:895px" width="15.2" height="15.2" viewBox="-1.000 -0.579 16 16"><g clip-path="url(#c16)"><rect width="16" height="16" fill="#e6e4e1"/><path d="M3.800 16C3.300 8 4.800 2.200 8 2.200C11.200 2.200 12.700 8 12.200 16Z" fill="#d3b07a"/><path d="M5.500 16C5.800 13.500 6.800 12.500 8 12.500C9.200 12.500 10.200 13.500 10.500 16Z" fill="#4a7f86"/><ellipse cx="8" cy="7.4" rx="2.3" ry="3.1" fill="#ecc5a9"/><path d="M5.700 6.800C5.500 4.200 6.600 3.400 8 3.400C9.400 3.400 10.500 4.200 10.300 6.800C9.900 5.400 9.200 5 8 5C6.800 5 6.100 5.400 5.700 6.800Z" fill="#d9b983"/></g></svg>
<div class="t ln" id="ln6" style="left:656.35px;top:895.85px;font-size:14px;letter-spacing:-0.005px">Amber Boyer</div>
<div class="t ln" id="ld6" style="left:881.20px;top:895.75px;font-size:14px;letter-spacing:0.007px">10/18/23</div>
<div class="t ln" id="lk6" style="left:976.50px;top:895.75px;font-size:14px;letter-spacing:0.000px">1</div>

<!--BOTTOM_END-->
</div>
</body>
</html>
